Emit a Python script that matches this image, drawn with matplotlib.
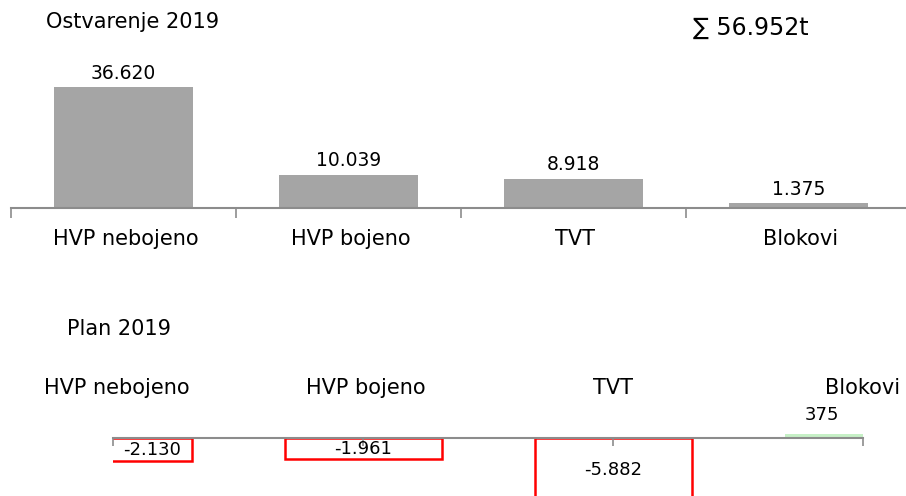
import matplotlib
matplotlib.use("Agg")
import matplotlib.pyplot as plt

categories = ["HVP nebojeno", "HVP bojeno", "TVT", "Blokovi"]
actual = [36620, 10039, 8918, 1375]
plan_diff = [-2130, -1961, -5882, 375]
total_label = "∑ 56.952t"


def fmt(v):
    return f"{v:,}".replace(",", ".")


GREY = "#a5a5a5"
AXIS = "#8c8c8c"

fig = plt.figure(figsize=(9.06, 4.96), dpi=100)

# top chart: Ostvarenje 2019
W, H = 906, 496
ax1 = fig.add_axes([11 / W, (H - 208) / H, 900 / W, 132 / H])
pos = [i + 0.5 for i in range(len(categories))]
ax1.bar(pos, actual, width=0.62, color=GREY)
ax1.set_xlim(0, 4)
ax1.set_ylim(0, 40000)
for s in ["top", "left", "right"]:
    ax1.spines[s].set_visible(False)
ax1.spines["bottom"].set_color(AXIS)
ax1.spines["bottom"].set_linewidth(1.5)
ax1.set_yticks([])
ax1.set_xticks(range(5))
ax1.set_xticklabels([])
ax1.tick_params(axis="x", length=7, width=1.2, color=AXIS)
for x, v, c in zip(pos, actual, categories):
    ax1.annotate(fmt(v), (x, v), xytext=(0, 14), textcoords="offset pixels",
                 ha="center", va="center", fontsize=13.5)
    ax1.annotate(c, (x, 0), xytext=(2, -31), textcoords="offset pixels",
                 ha="center", va="center", fontsize=15, annotation_clip=False)

fig.text(46 / W, 1 - 22 / H, "Ostvarenje 2019", ha="left", va="center", fontsize=15)
fig.text(751 / W, 1 - 28 / H, total_label, ha="center", va="center", fontsize=17)

# bottom chart: Plan 2019 (difference)
ax2 = fig.add_axes([113 / W, 0, 750 / W, 76 / H])
bw = 0.628
xs = list(range(len(categories)))
for x, v in zip(xs, plan_diff):
    if v < 0:
        ax2.bar(x, v, width=bw, facecolor="white", edgecolor="#ff0000", linewidth=1.8)
    else:
        ax2.bar(x, v, width=bw, color="#c6f0c6")
ax2.set_xlim(0, 3)
ax2.set_ylim(-5370, 1670)
for s in ["top", "left", "right"]:
    ax2.spines[s].set_visible(False)
ax2.spines["bottom"].set_position(("data", 0))
ax2.spines["bottom"].set_color(AXIS)
ax2.spines["bottom"].set_linewidth(1.5)
ax2.set_yticks([])
ax2.set_xticks(xs)
ax2.set_xticklabels([])
ax2.tick_params(axis="x", length=6, width=1.2, color=AXIS)

label_dx = [bw / 4, 0, 0, -bw / 4]
cat_dx = [4, 3, 0, -1]
for x, v, c, dx, cdx in zip(xs, plan_diff, categories, label_dx, cat_dx):
    if v < 0:
        ax2.text(x + dx, v / 2, fmt(v), ha="center", va="center", fontsize=13)
    else:
        ax2.annotate(fmt(v), (x + dx, v), xytext=(-2, 19), textcoords="offset pixels",
                     ha="center", va="center", fontsize=13, annotation_clip=False)
    ax2.annotate(c, (x, 0), xytext=(cdx, 50), textcoords="offset pixels",
                 ha="center", va="center", fontsize=15, annotation_clip=False)
# keep Blokovi inside the figure
ax2.texts[-1].set_ha("right")
ax2.texts[-1].set_position((37, 50))

fig.text(67 / W, 1 - 329 / H, "Plan 2019", ha="left", va="center", fontsize=15)

fig.savefig("out.png", dpi=100)
